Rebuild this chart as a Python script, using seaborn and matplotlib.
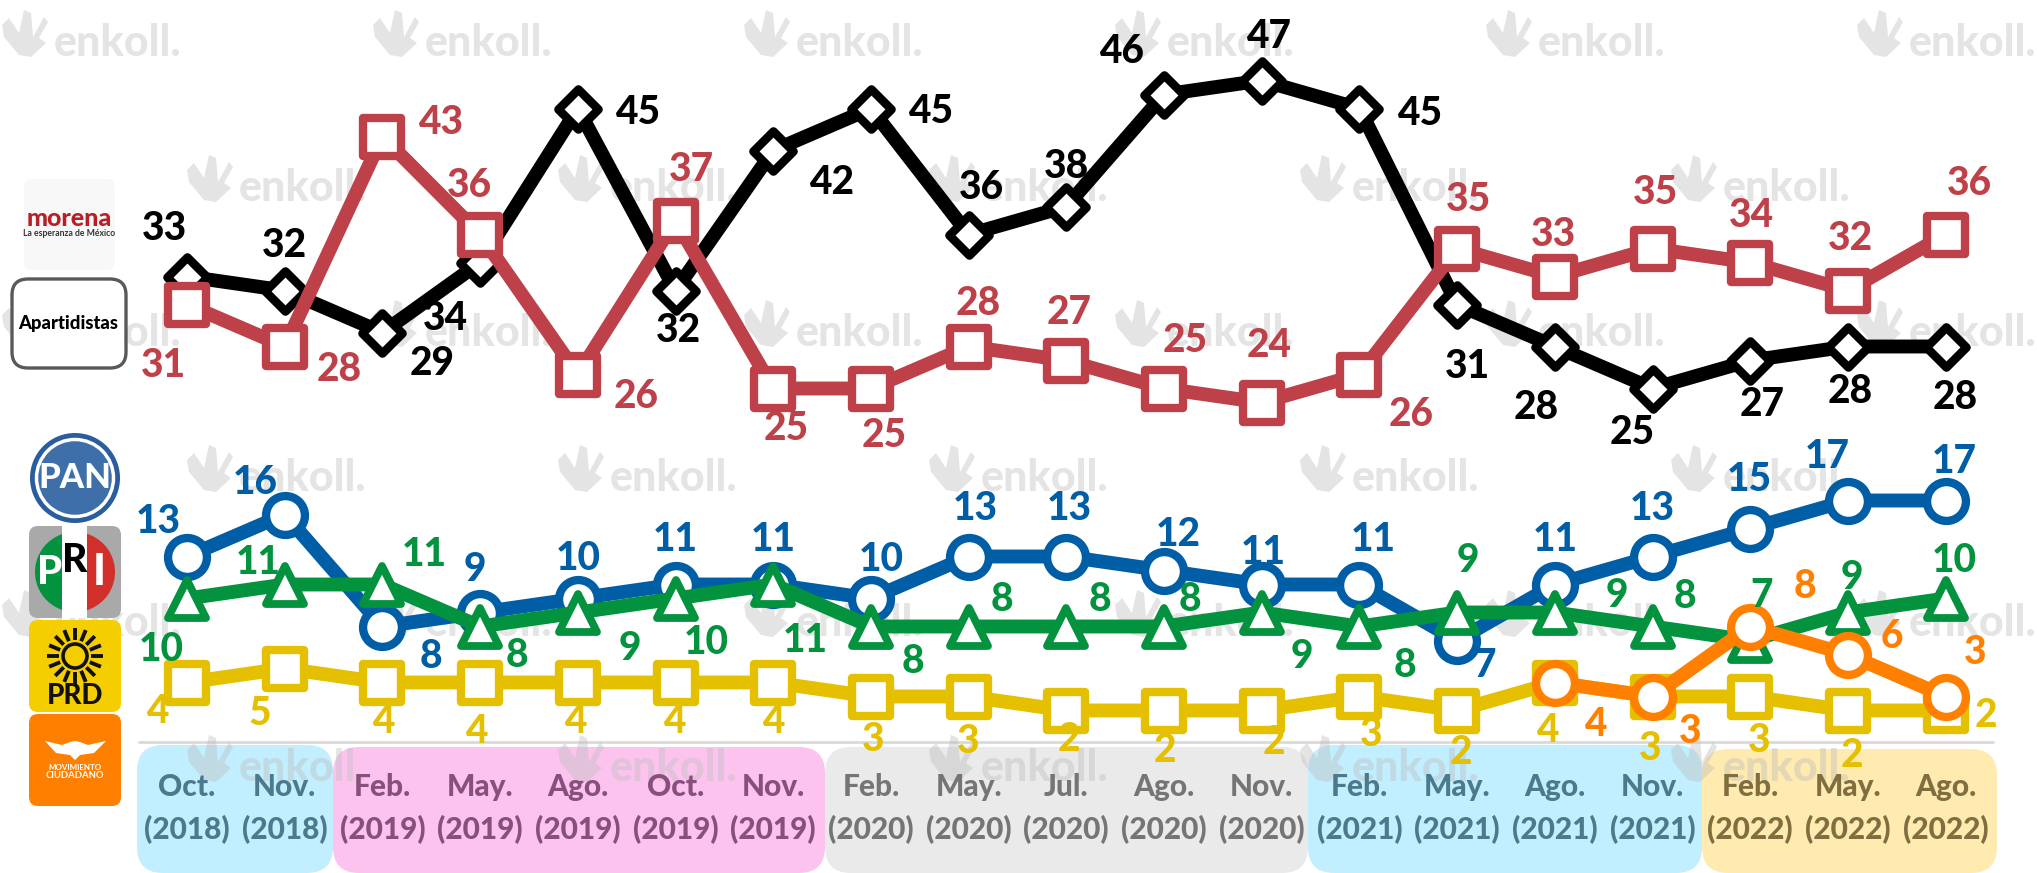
import numpy as np
import pandas as pd
import matplotlib
matplotlib.use('Agg')
import matplotlib.pyplot as plt
import seaborn as sns
from matplotlib.markers import MarkerStyle
from matplotlib.patches import FancyBboxPatch, Circle, Polygon, Rectangle, Wedge

months = ['Oct.', 'Nov.', 'Feb.', 'May.', 'Ago.', 'Oct.', 'Nov.', 'Feb.', 'May.', 'Jul.',
          'Ago.', 'Nov.', 'Feb.', 'May.', 'Ago.', 'Nov.', 'Feb.', 'May.', 'Ago.']
years = ['2018', '2018', '2019', '2019', '2019', '2019', '2019', '2020', '2020', '2020',
         '2020', '2020', '2021', '2021', '2021', '2021', '2022', '2022', '2022']

apartidistas = [33, 32, 29, 34, 45, 32, 42, 45, 36, 38, 46, 47, 45, 31, 28, 25, 27, 28, 28]
morena = [31, 28, 43, 36, 26, 37, 25, 25, 28, 27, 25, 24, 26, 35, 33, 35, 34, 32, 36]
pan = [13, 16, 8, 9, 10, 11, 11, 10, 13, 13, 12, 11, 11, 7, 11, 13, 15, 17, 17]
pri = [10, 11, 11, 8, 9, 10, 11, 8, 8, 8, 8, 9, 8, 9, 9, 8, 7, 9, 10]
prd = [4, 5, 4, 4, 4, 4, 4, 3, 3, 2, 2, 2, 3, 2, 4, 3, 3, 2, 2]
mc = [None] * 14 + [4, 3, 8, 6, 3]

# label offsets from the marker (px of the shrunk picture, y down)
off_apart = [(-17, -37), (0, -35), (38, 24), (-27, 43), (46, 3), (2, 31), (45, 25), (46, 2), (10, -36), (0, -31),
             (-33, -33), (5, -34), (46, 4), (8, 48), (-14, 47), (-16, 34), (9, 34), (2, 35), (7, 39)]
off_morena = [(-18, 47), (42, 18), (45, -11), (-8, -38), (45, 17), (12, -39), (10, 31), (10, 36), (7, -33), (2, -37),
              (16, -37), (6, -44), (40, 31), (9, -38), (-1, -32), (2, -43), (1, -36), (2, -40), (18, -39)]
off_pan = [(-22, -27), (-23, -25), (37, 23), (-4, -33), (0, -31), (0, -35), (0, -35), (8, -30), (5, -37), (2, -37),
           (11, -28), (1, -25), (11, -35), (21, 19), (0, -35), (0, -37), (-1, -38), (-16, -34), (7, -30)]
off_pri = [(-20, 39), (-20, -17), (32, -23), (28, 22), (40, 28), (24, 34), (25, 43), (32, 27), (26, -21), (26, -21),
           (20, -21), (31, 34), (35, 30), (8, -40), (48, -13), (25, -23), (9, -35), (3, -27), (7, -29)]
off_prd = [(-23, 22), (-19, 35), (1, 30), (-3, 38), (-2, 30), (-1, 30), (0, 30), (2, 33), (0, 35), (2, 22),
           (1, 31), (9, 25), (9, 29), (3, 32), (-6, 37), (-2, 40), (7, 34), (3, 35), (31, 4)]
off_mc = [None] * 14 + [(31, 32), (29, 27), (42, -31), (34, -14), (23, -34)]

series = [
    ('Apartidistas', apartidistas, off_apart, '#000000', 'D', 20, 6.2),
    ('Morena', morena, off_morena, '#BE4048', 's', 27, 6),
    ('PAN', pan, off_pan, '#005EA6', 'o', 28, 6),
    ('PRI', pri, off_pri, '#03923D', '^', 27, 5.6),
    ('PRD', prd, off_prd, '#E5C000', 's', 27, 6),
    ('MC', mc, off_mc, '#FF8000', 'o', 28, 6),
]

W, H = 2037, 873
SCALE = W / 1568
FONT = 'Lato'

sns.set_theme(style='white')
plt.rcParams['font.family'] = [FONT, 'DejaVu Sans']

fig = plt.figure(figsize=(W / 100, H / 100), dpi=100, facecolor='white')

# background layer in pixel coords: boxes, logos, watermark
bg = fig.add_axes([0, 0, 1, 1])
bg.set_xlim(0, W)
bg.set_ylim(H, 0)
bg.axis('off')


def round_box(ax, x0, y0, x1, y1, r, **kw):
    p = FancyBboxPatch((x0 + r, y0 + r), x1 - x0 - 2 * r, y1 - y0 - 2 * r,
                       boxstyle='round,pad=%f,rounding_size=%f' % (r, r), **kw)
    ax.add_patch(p)
    return p


bands = [
    (137, 333, 745, '#C1EFFF', '#4C7A8C'),
    (333, 825, 747, '#FCC3EE', '#864F7C'),
    (825, 1308, 747, '#EAEAEA', '#757575'),
    (1308, 1702, 745, '#C1EFFF', '#4C7A8C'),
    (1702, 1997, 749, '#FFEAB0', '#7F6E40'),
]
for x0, x1, top, col, tcol in bands:
    round_box(bg, x0, top, x1, 873, 26, fc=col, ec='none', zorder=1)

bg.plot([139, 1993], [742, 742], color='#D9D9D9', lw=2, zorder=2)

# watermark
wm_shape = [(0, 15), (7, 8), (17, 23), (22, 0), (29, 3), (31, 27), (42, 7), (46, 12), (37, 28),
            (44, 33), (29, 47), (17, 45), (2, 27)]
for r, wy in enumerate([10, 155, 300, 445, 590, 735]):
    wx0 = 2 if r % 2 == 0 else 187
    for k in range(6):
        wx = wx0 + k * 371
        if wx > W:
            continue
        bg.add_patch(Polygon([(wx + a, wy + b) for a, b in wm_shape], fc='#BFBFBF', ec='none', alpha=0.42, zorder=3))
        bg.text(wx + 52, wy + 46, 'enkoll.', fontsize=31, fontweight='black', color='#BFBFBF',
                alpha=0.42, va='baseline', ha='left', zorder=3)

# logos
round_box(bg, 24, 179, 115, 270, 8, fc='#F8F8F8', ec='none', zorder=4)
bg.text(69.5, 219, 'morena', fontsize=18, fontweight='black', color='#B92025', ha='center', va='center', zorder=5)
bg.text(69.5, 233, 'La esperanza de México', fontsize=6.2, fontweight='bold', color='#333333',
        ha='center', va='center', zorder=5)

round_box(bg, 12, 279, 126, 368, 16, fc='white', ec='#595959', lw=2.4, zorder=4)
bg.text(68.5, 324, 'Apartidistas', fontsize=13.3, fontweight='black', color='black', ha='center', va='center', zorder=5)

bg.add_patch(Circle((75, 478), 45, fc='#2A5D9E', ec='none', zorder=4))
bg.add_patch(Circle((75, 478), 38.5, fc='#3F6FA8', ec='white', lw=2.5, zorder=5))
bg.text(75, 478, 'PAN', fontsize=25, fontweight='black', color='white', ha='center', va='center', zorder=6)

round_box(bg, 29, 526, 121, 618, 9, fc='#A9A9A9', ec='none', zorder=4)
bg.add_patch(Wedge((75, 572), 40, 90, 270, fc='#03923D', ec='none', zorder=5))
bg.add_patch(Wedge((75, 572), 40, 270, 90, fc='#D22E2A', ec='none', zorder=5))
bg.add_patch(Rectangle((62, 526), 25, 92, fc='white', ec='none', zorder=6))
bg.text(50, 573, 'P', fontsize=29, fontweight='black', color='white', ha='center', va='center', zorder=7)
bg.text(75, 560, 'R', fontsize=28, fontweight='black', color='black', ha='center', va='center', zorder=7)
bg.text(99, 572, 'I', fontsize=31, fontweight='black', color='white', ha='center', va='center', zorder=7)

round_box(bg, 29, 620, 121, 712, 9, fc='#F5CE00', ec='none', zorder=4)
for a in np.deg2rad(np.arange(0, 360, 22.5)):
    bg.plot([75 + 16 * np.cos(a), 75 + 28 * np.cos(a)], [656 + 16 * np.sin(a), 656 + 28 * np.sin(a)],
            color='#111111', lw=2.8, zorder=5, solid_capstyle='butt')
bg.add_patch(Circle((75, 656), 12, fc='none', ec='#111111', lw=2.6, zorder=5))
bg.text(75, 696, 'PRD', fontsize=20, fontweight='black', color='#111111', ha='center', va='center', zorder=5)

round_box(bg, 29, 714, 121, 806, 9, fc='#FF8000', ec='none', zorder=4)
bg.add_patch(Polygon([(45, 741), (62, 745), (70, 742), (75, 741), (80, 742), (88, 745), (106, 741),
                      (94, 753), (80, 755), (75, 760), (70, 755), (56, 753)], fc='white', ec='none', zorder=5))
bg.text(75, 767, 'MOVIMIENTO', fontsize=5.8, fontweight='bold', color='white', ha='center', va='center', zorder=5)
bg.text(75, 775, 'CIUDADANO', fontsize=6.8, fontweight='bold', color='white', ha='center', va='center', zorder=5)

# chart layer: x index 0 sits at px 187, spacing 97.7; y 0 at px 738.5, 14 px per point
ax = fig.add_axes([0, 0, 1, 1], facecolor='none')
for name, values, offsets, color, mk, ms, mew in series:
    df = pd.DataFrame({'i': range(len(values)), 'v': values}).dropna()
    sns.lineplot(data=df, x='i', y='v', ax=ax, color=color, linewidth=10, sort=False, errorbar=None,
                 marker=MarkerStyle(mk, joinstyle='round'), markersize=ms, markerfacecolor='white',
                 markeredgecolor=color, markeredgewidth=mew, solid_joinstyle='round')
    for i, v, o in zip(df['i'], df['v'], [o for o in offsets if o is not None]):
        ax.annotate('%d' % v, (i, v), xytext=(o[0] * SCALE, -o[1] * SCALE), textcoords='offset pixels',
                    ha='center', va='center', fontsize=28, fontweight='black', color=color, zorder=10)

ax.set_xlim(-187 / 97.7, (W - 187) / 97.7)
ax.set_ylim((738.5 - H) / 14, 738.5 / 14)
ax.axis('off')

# month and year tick labels inside the bands
band_of = [0, 0, 1, 1, 1, 1, 1, 2, 2, 2, 2, 2, 3, 3, 3, 3, 4, 4, 4]
for i, (m, y) in enumerate(zip(months, years)):
    c = bands[band_of[i]][4]
    ax.annotate(m, (i, 0), xytext=(0, -(787 - 738.5)), textcoords='offset pixels', ha='center', va='center',
                fontsize=21.5, fontweight='black', color=c, zorder=11)
    ax.annotate('(%s)' % y, (i, 0), xytext=(0, -(830 - 738.5)), textcoords='offset pixels', ha='center', va='center',
                fontsize=21.5, fontweight='black', color=c, zorder=11)

fig.savefig('out.png', dpi=100, facecolor='white')
